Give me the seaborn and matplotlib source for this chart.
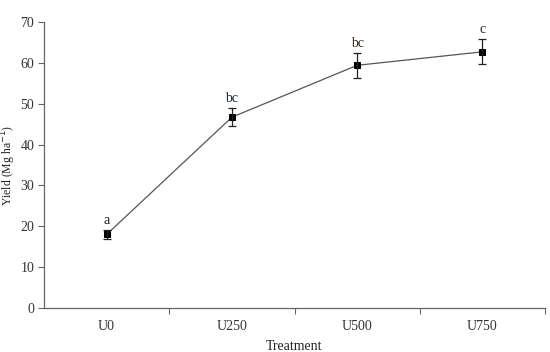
import matplotlib
matplotlib.use("Agg")
import matplotlib.pyplot as plt
import seaborn as sns
import pandas as pd
import numpy as np

treatments = ["U0", "U250", "U500", "U750"]
yield_mean = [18.0, 46.7, 59.4, 62.7]
yield_err = [1.0, 2.2, 3.0, 3.1]
letters = ["a", "bc", "bc", "c"]
letter_colors = ["#1a1a2e", "#1f2a3a", "#3a2a1f", "#1f2a3a"]

sns.set_style("white")
plt.rcParams["font.family"] = ["Liberation Serif", "DejaVu Serif"]

df = pd.DataFrame({"pos": np.arange(len(treatments)), "Yield": yield_mean, "Treatment": treatments})

fig = plt.figure(figsize=(5.5, 3.52), dpi=100)
ax = fig.add_axes([0.08, 0.125, 0.911, 0.8125])

sns.lineplot(data=df, x="pos", y="Yield", ax=ax, color="#555555", linewidth=0.9,
             marker="s", markersize=4.5, markerfacecolor="black", markeredgecolor="black")
ax.errorbar(df["pos"], df["Yield"], yerr=yield_err, fmt="none", ecolor="#222222",
            elinewidth=0.9, capsize=3, capthick=0.9)

for x, y, e, t, c in zip(df["pos"], yield_mean, yield_err, letters, letter_colors):
    ax.text(x, y + e + 2.4, t, ha="center", va="center", fontsize=10, color=c)

ax.set_xlim(-0.5, 3.5)
ax.set_ylim(0, 70)
ax.set_yticks(range(0, 71, 10))
ax.set_xticks(df["pos"])
ax.set_xticklabels(treatments)
ax.set_xticks([0.5, 1.5, 2.5, 3.5], minor=True)
ax.tick_params(axis="x", which="major", bottom=True, length=0, pad=9, labelsize=10, labelcolor="#333333")
ax.tick_params(axis="x", which="minor", bottom=True, length=4, width=0.8, direction="out", color="#666666")
ax.tick_params(axis="y", left=True, length=4, width=0.8, direction="out", pad=3, labelsize=10,
               labelcolor="#333333", color="#666666")

for s in ["top", "right"]:
    ax.spines[s].set_visible(False)
for s in ["left", "bottom"]:
    ax.spines[s].set_color("#666666")
    ax.spines[s].set_linewidth(0.9)

ax.set_xlabel("Treatment", fontsize=10, color="#222222", labelpad=5)
ax.set_ylabel("Yield (Mg ha$^{-1}$)", fontsize=8.5, color="#222222", va="center")
ax.yaxis.set_label_coords(-0.071, 0.5)

fig.savefig("out.png", dpi=100)
